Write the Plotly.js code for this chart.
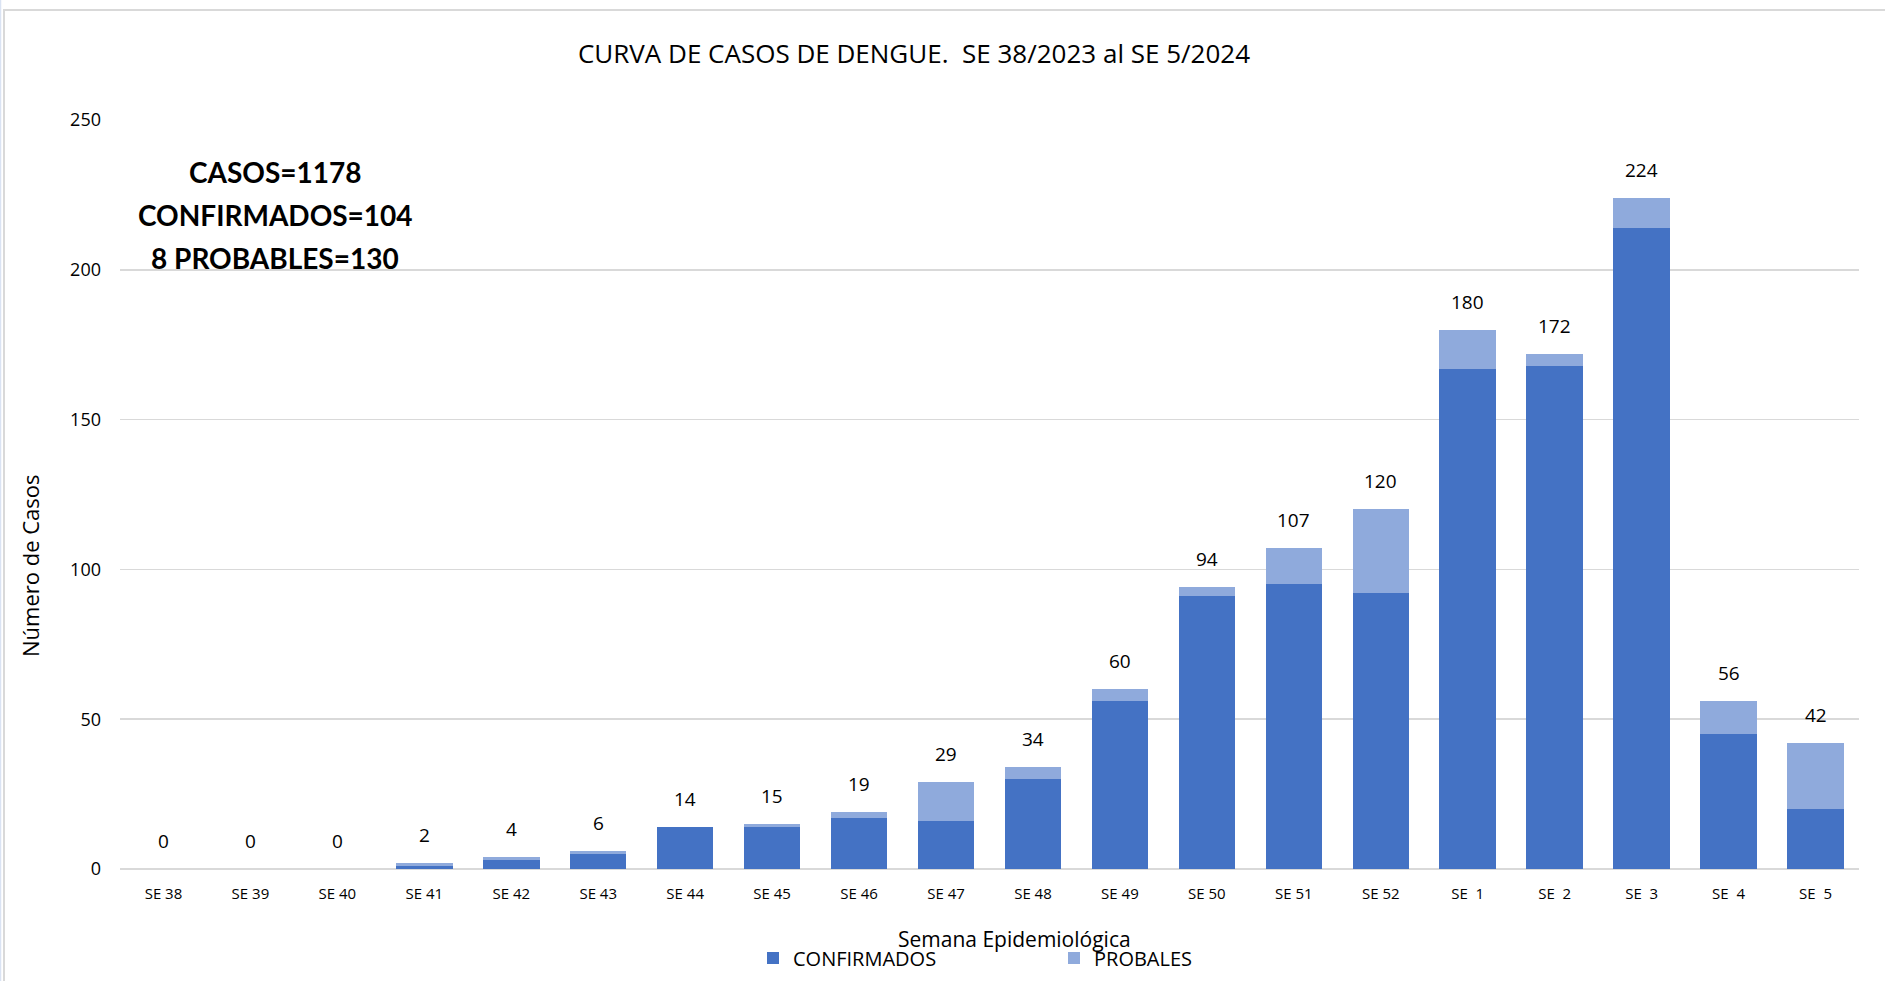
<!DOCTYPE html>
<html>
<head>
<meta charset="utf-8">
<script src="https://cdn.plot.ly/plotly-3.0.1.min.js"></script>
<style>
  html, body { margin: 0; padding: 0; background: #ffffff; }
  #chart { width: 1885px; height: 981px; }
</style>
</head>
<body>
<div id="chart"></div>
<script>
// ---- data ----
const semanas = ["SE 38","SE 39","SE 40","SE 41","SE 42","SE 43","SE 44","SE 45","SE 46","SE 47",
                 "SE 48","SE 49","SE 50","SE 51","SE 52","SE  1","SE  2","SE  3","SE  4","SE  5"];
const confirmados = [0, 0, 0, 1, 3, 5, 14, 14, 17, 16, 30, 56, 91, 95, 92, 167, 168, 214, 45, 20];
const probables   = [0, 0, 0, 1, 1, 1, 0, 1, 2, 13, 4, 4, 3, 12, 28, 13, 4, 10, 11, 22];
const resumen = ["CASOS=1178", "CONFIRMADOS=104", "8 PROBABLES=130"];
const yTicks = [0, 50, 100, 150, 200, 250];

const totales = confirmados.map((c, i) => c + probables[i]);

// ---- geometry helpers (pixel -> paper) ----
const W = 1885, H = 981;
const mL = 120, mR = 26, mT = 120, mB = 112;
const pw = W - mL - mR, ph = H - mT - mB;
const px = x => (x - mL) / pw;
const py = y => (H - mB - y) / ph;

const FONT = "'Open Sans', 'DejaVu Sans', sans-serif";

const traces = [
  { type: "bar", name: "CONFIRMADOS", x: semanas, y: confirmados,
    marker: { color: "#4472C4", line: { width: 0 } }, hoverinfo: "x+y" },
  { type: "bar", name: "PROBALES", x: semanas, y: probables,
    marker: { color: "#8FAADC", line: { width: 0 } }, hoverinfo: "x+y" }
];

const annotations = [];
// data labels above stacks
semanas.forEach((s, i) => {
  annotations.push({ x: s, y: totales[i], xref: "x", yref: "y", text: String(totales[i]),
    showarrow: false, yanchor: "middle", yshift: 28,
    font: { family: FONT, size: 19, color: "#000000" } });
});
// summary text
const sumY = [172, 215, 258];
resumen.forEach((t, i) => {
  annotations.push({ x: px(275), y: py(sumY[i]), xref: "paper", yref: "paper", text: "<b>" + t + "</b>",
    showarrow: false, xanchor: "center", yanchor: "middle",
    font: { family: "Lato, 'Open Sans', sans-serif", size: 28, color: "#000000" } });
});
// axis titles
annotations.push({ x: px(1014), y: py(939), xref: "paper", yref: "paper", text: "Semana Epidemiológica",
  showarrow: false, xanchor: "center", yanchor: "middle", font: { family: FONT, size: 21, color: "#000000" } });
annotations.push({ x: px(30), y: py(566), xref: "paper", yref: "paper", text: "Número de Casos",
  showarrow: false, textangle: -90, xanchor: "center", yanchor: "middle", font: { family: FONT, size: 22, color: "#000000" } });

const layout = {
  width: W, height: H,
  margin: { l: mL, r: mR, t: mT, b: mB, pad: 0, autoexpand: false },
  paper_bgcolor: "#ffffff", plot_bgcolor: "#ffffff",
  barmode: "stack", bargap: 0.35,
  title: { text: "CURVA DE CASOS DE DENGUE.  SE 38/2023 al SE 5/2024", xref: "paper", x: px(914),
    xanchor: "center", yref: "container", y: 1 - 54 / H, yanchor: "middle",
    font: { family: FONT, size: 26, color: "#000000" } },
  xaxis: { type: "category", showgrid: false, zeroline: false, showline: false, ticks: "",
    tickfont: { family: FONT, size: 15, color: "#000000" }, ticklabelstandoff: 14, fixedrange: true },
  yaxis: { range: [0, 250], tickvals: yTicks, ticktext: yTicks.map(String), showgrid: true,
    gridcolor: "#d9d9d9", gridwidth: 1.5, zeroline: true, zerolinecolor: "#d9d9d9", zerolinewidth: 1.5,
    showline: false, ticks: "", tickfont: { family: FONT, size: 18, color: "#000000" },
    ticklabelstandoff: 18, fixedrange: true },
  showlegend: true,
  legend: { orientation: "h", x: px(753), xanchor: "left", y: py(958), yanchor: "middle",
    font: { family: FONT, size: 20, color: "#000000" }, entrywidth: 256, entrywidthmode: "pixels",
    traceorder: "normal", bgcolor: "rgba(0,0,0,0)" },
  annotations: annotations,
  shapes: [
    { type: "rect", xref: "paper", yref: "paper", x0: px(4), x1: px(W + 40), y0: py(H + 40), y1: py(10),
      line: { color: "#d9d9d9", width: 2 }, fillcolor: "rgba(0,0,0,0)", layer: "below" },
    { type: "line", xref: "paper", yref: "paper", x0: px(0.5), x1: px(0.5), y0: py(H), y1: py(0),
      line: { color: "#dae3f3", width: 1.5 } }
  ]
};

Plotly.newPlot("chart", traces, layout, { displayModeBar: false, staticPlot: true });
</script>
</body>
</html>
